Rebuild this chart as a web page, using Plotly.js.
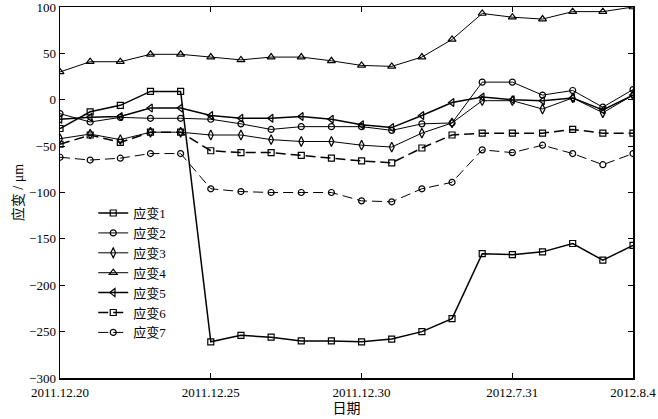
<!DOCTYPE html>
<html>
<head>
<meta charset="utf-8">
<script src="https://cdn.plot.ly/plotly-3.0.1.min.js"></script>
<style>html,body{margin:0;padding:0;background:#fff;}#chart{width:658px;height:419px;}</style>
</head>
<body>
<div id="chart"></div>
<script>
// Point index along the x axis (evenly spaced observations)
var xIndex = [0,1,2,3,4,5,6,7,8,9,10,11,12,13,14,15,16,17,18,19];
var tickPositions = [0,5,10,15,19];
var tickLabels = ['2011.12.20','2011.12.25','2011.12.30','2012.7.31','2012.8.4'];

var seriesNames = ['应变1','应变2','应变3','应变4','应变5','应变6','应变7'];

var strain1 = [-31,-13,-6,9,9,-261,-254,-256,-260,-260,-261,-258,-250,-236,-166,-167,-164,-155,-173,-157];
var strain2 = [-15,-24,-19,-20,-20,-21,-26,-32,-29,-29,-29,-33,-26,-25,19,19,5,10,-8,11];
var strain3 = [-42,-37,-43,-35,-35,-38,-38,-43,-45,-45,-49,-51,-36,-25,-1,-1,-10,2,-14,5];
var strain4 = [30,41,41,49,49,46,43,46,46,42,37,36,46,65,93,89,87,95,95,100];
var strain5 = [-21,-19,-18,-9,-9,-17,-20,-20,-18,-21,-27,-30,-17,-3,3,0,-1,2,-11,5];
var strain6 = [-48,-38,-46,-35,-35,-55,-57,-57,-60,-63,-66,-68,-52,-38,-36,-36,-36,-32,-36,-36];
var strain7 = [-62,-65,-63,-58,-58,-96,-99,-100,-100,-100,-109,-110,-96,-89,-54,-57,-49,-58,-70,-58];

var allSeries = [strain1,strain2,strain3,strain4,strain5,strain6,strain7];
var symbols = ['square-open','circle-open','diamond-tall-open','triangle-up-open','triangle-left-open','square-open','circle-open'];
var dashes = ['solid','solid','solid','solid','solid','10px,5px','10px,5px'];
var widths = [1.5,1.0,1.0,1.0,1.5,1.5,1.0];
var msizes = [6,6,7,7,7,6,6];

var traces = allSeries.map(function(vals,i){
  return {
    x: xIndex, y: vals, name: seriesNames[i], type:'scatter', mode:'lines+markers',
    line:{color:'#000', width:widths[i], dash:dashes[i]},
    marker:{symbol:symbols[i], size:msizes[i], color:'#000', line:{color:'#000', width:1.2}}
  };
});

var fontFam = 'Liberation Serif, "Noto Sans CJK SC", serif';
var layout = {
  width:658, height:419,
  margin:{l:60, r:25, t:7, b:41},
  paper_bgcolor:'#fff', plot_bgcolor:'#fff',
  font:{family:fontFam, size:13, color:'#000'},
  showlegend:true,
  legend:{x:0.058, y:0.485, xanchor:'left', yanchor:'top', bgcolor:'rgba(0,0,0,0)', font:{family:fontFam, size:13}, tracegroupgap:0},
  xaxis:{
    range:[0,19], tickmode:'array', tickvals:tickPositions, ticktext:tickLabels,
    showgrid:false, zeroline:false, showline:true, linecolor:'#000', linewidth:1.5,
    mirror:'ticks', ticks:'inside', ticklen:5, tickcolor:'#000',
    ticklabeloverflow:'allow', ticklabelstandoff:2,
    tickfont:{family:fontFam, size:13},
    title:{text:'日期', font:{family:fontFam, size:14}, standoff:4}
  },
  yaxis:{
    range:[-300,100], tickmode:'array', tickvals:[-300,-250,-200,-150,-100,-50,0,50,100],
    showgrid:false, zeroline:false, showline:true, linecolor:'#000', linewidth:1.5,
    mirror:'ticks', ticks:'inside', ticklen:5, tickcolor:'#000',
    ticklabeloverflow:'allow',
    tickfont:{family:fontFam, size:13},
    title:{text:'应变 / μm', font:{family:fontFam, size:14}, standoff:2}
  }
};

Plotly.newPlot('chart', traces, layout, {displayModeBar:false, staticPlot:true});
</script>
</body>
</html>
